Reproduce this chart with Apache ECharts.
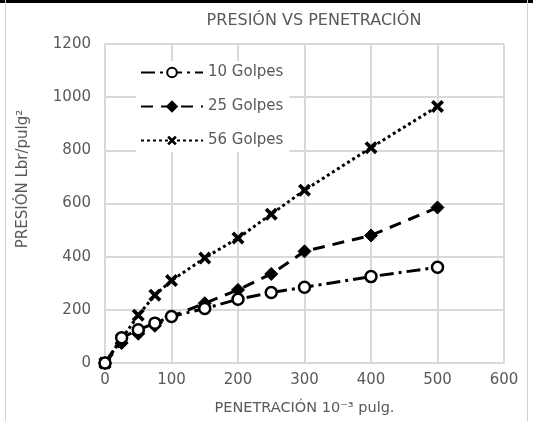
<!DOCTYPE html>
<html>
<head>
<meta charset="utf-8">
<script src="https://cdn.jsdelivr.net/npm/echarts@6/dist/echarts.min.js"></script>
<style>html,body{margin:0;padding:0;background:#fff;}#c{width:533px;height:421px;}</style>
</head>
<body>
<div id="c"></div>
<script>
const penetration = [0, 25, 50, 75, 100, 150, 200, 250, 300, 400, 500];
const golpes10 = [0, 95, 125, 150, 175, 205, 240, 265, 285, 325, 360];
const golpes25 = [0, 75, 110, 140, 175, 225, 275, 335, 420, 480, 585];
const golpes56 = [0, 90, 180, 255, 310, 395, 470, 560, 650, 810, 965];
const seriesNames = ['10 Golpes', '25 Golpes', '56 Golpes'];
const titleText = 'PRESIÓN VS PENETRACIÓN';
const xName = 'PENETRACIÓN 10⁻³ pulg.';
const yName = 'PRESIÓN Lbr/pulg²';

const FONT = 'DejaVu Sans';
const TXT = '#595959';
const GRID = '#d9d9d9';
const xShape = 'path://M2,0 L5,3 L8,0 L10,2 L7,5 L10,8 L8,10 L5,7 L2,10 L0,8 L3,5 L0,2 Z';

function pairs(ys) { return penetration.map((x, i) => [x, ys[i]]); }

const chart = echarts.init(document.getElementById('c'), null, {renderer: 'canvas'});
chart.setOption({
  animation: false,
  backgroundColor: '#fff',
  title: {
    text: titleText, left: 309, top: 8, textAlign: 'center',
    textStyle: {fontFamily: FONT, fontSize: 16, fontWeight: 'normal', color: TXT}
  },
  grid: {left: 105, top: 44, width: 399, height: 320, containLabel: false},
  legend: {
    orient: 'vertical', left: 136, top: 61, itemWidth: 62, itemHeight: 12, itemGap: 19,
    backgroundColor: '#fff', padding: [4, 6, 4, 4],
    textStyle: {fontFamily: FONT, fontSize: 15, color: TXT},
    data: seriesNames
  },
  xAxis: {
    type: 'value', min: 0, max: 600, interval: 100,
    name: xName, nameLocation: 'middle', nameGap: 38,
    nameTextStyle: {fontFamily: FONT, fontSize: 14.5, color: TXT},
    axisLine: {show: true, lineStyle: {color: GRID, width: 2}},
    axisTick: {show: false},
    axisLabel: {fontFamily: FONT, fontSize: 15, color: TXT, margin: 10, formatter: v => String(v)},
    splitLine: {show: true, lineStyle: {color: GRID, width: 2}}
  },
  yAxis: {
    type: 'value', min: 0, max: 1200, interval: 200,
    axisLine: {show: true, lineStyle: {color: GRID, width: 2}},
    axisTick: {show: false},
    axisLabel: {fontFamily: FONT, fontSize: 15, color: TXT, margin: 14, formatter: v => String(v)},
    splitLine: {show: true, lineStyle: {color: GRID, width: 2}}
  },
  series: [
    {
      name: seriesNames[0], type: 'line', data: pairs(golpes10),
      symbol: 'circle', symbolSize: 11,
      itemStyle: {color: '#fff', borderColor: '#000', borderWidth: 2.5},
      lineStyle: {color: '#000', width: 3, type: [14, 5, 3, 5]},
      z: 3
    },
    {
      name: seriesNames[1], type: 'line', data: pairs(golpes25),
      symbol: 'diamond', symbolSize: 13,
      itemStyle: {color: '#000', borderColor: '#000', borderWidth: 1},
      lineStyle: {color: '#000', width: 3, type: [12, 8]},
      z: 2
    },
    {
      name: seriesNames[2], type: 'line', data: pairs(golpes56),
      symbol: xShape, symbolSize: 13,
      itemStyle: {color: '#000'},
      lineStyle: {color: '#000', width: 3, type: [3, 3]},
      z: 1
    }
  ],
  graphic: [
    {type: 'text', x: 23, y: 179, rotation: Math.PI / 2,
     style: {text: yName, align: 'center', verticalAlign: 'middle', fontFamily: FONT, fontSize: 15, fill: TXT}},
    {type: 'rect', left: 0, top: 0, shape: {width: 533, height: 3}, style: {fill: '#000'}, z: 100},
    {type: 'rect', left: 5, top: 0, shape: {width: 1, height: 421}, style: {fill: '#cfcfcf'}, z: 100},
    {type: 'rect', left: 527, top: 0, shape: {width: 1, height: 421}, style: {fill: '#cfcfcf'}, z: 100}
  ]
});
</script>
</body>
</html>
